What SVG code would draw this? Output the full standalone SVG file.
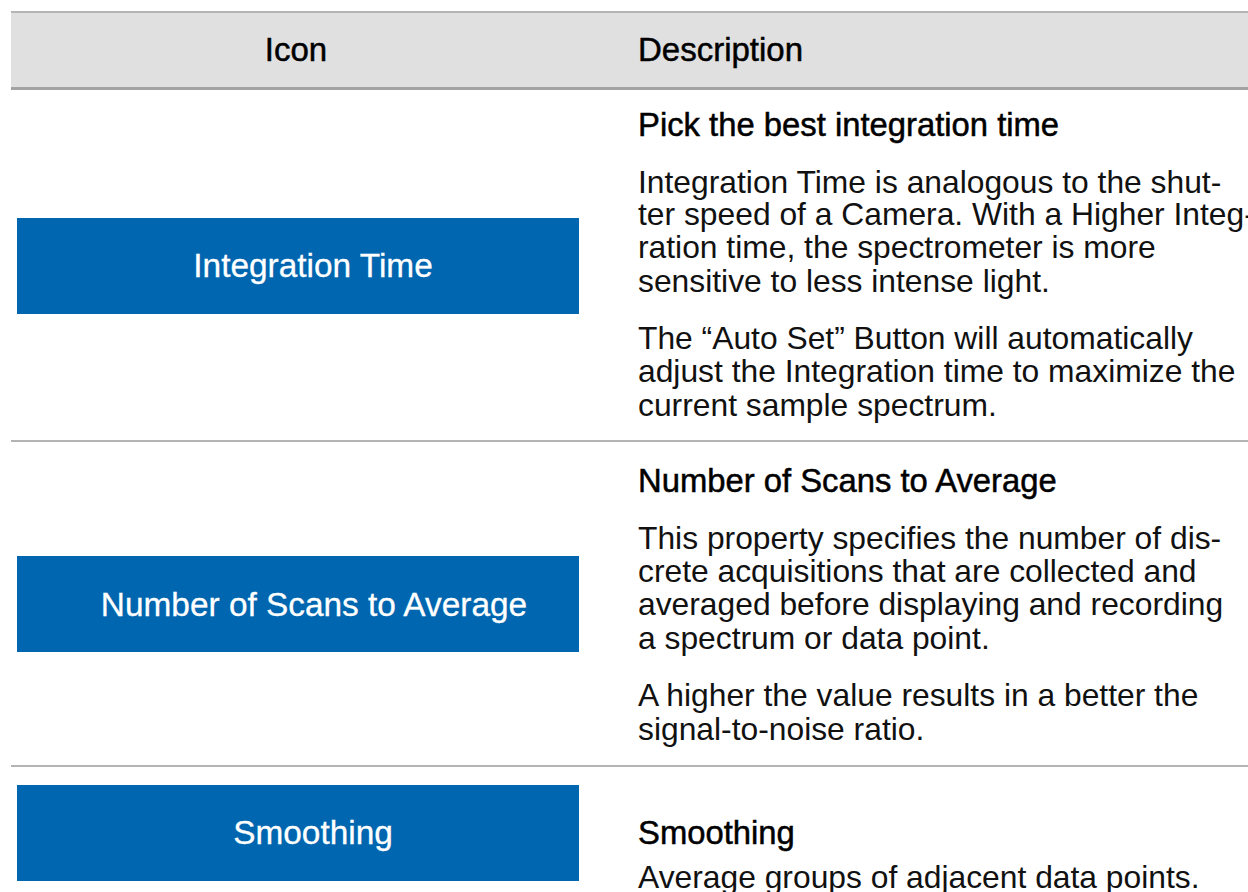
<svg xmlns="http://www.w3.org/2000/svg" width="1248" height="892" viewBox="0 0 1248 892">
<style>
.hd{font-family:"Liberation Sans",Arial,sans-serif;font-size:33px;fill:#000;stroke:#000;stroke-width:0.5}
.ti{font-family:"Liberation Sans",Arial,sans-serif;font-size:32.8px;fill:#000;stroke:#000;stroke-width:0.5}
.bd{font-family:"Liberation Sans",Arial,sans-serif;font-size:31.8px;fill:#111}
.btn{fill:#0066b0}
.bl{font-family:"Liberation Sans",Arial,sans-serif;font-size:33.4px;fill:#fff;text-anchor:middle;stroke:#fff;stroke-width:0.3}
.sep{stroke:#b4b4b4;stroke-width:2}
</style>
<rect width="1248" height="892" fill="#fff"/>
<g id="header">
<rect x="11" y="12" width="1237" height="76" fill="#e0e0e0"/>
<line x1="11" y1="12" x2="1248" y2="12" class="sep"/>
<line x1="11" y1="88.5" x2="1248" y2="88.5" stroke="#a3a3a3" stroke-width="3"/>
<text x="296" y="61" class="hd" text-anchor="middle">Icon</text>
<text x="638" y="61" class="hd">Description</text>
</g>
<g id="connectors">
<line x1="11" y1="441" x2="1248" y2="441" class="sep"/>
<line x1="11" y1="766" x2="1248" y2="766" class="sep"/>
</g>
<g id="integration-time">
<rect x="17" y="218" width="562" height="96" class="btn"/>
<text x="313" y="277" class="bl">Integration Time</text>
<text x="638" y="136" class="ti">Pick the best integration time</text>
<text class="bd">
<tspan x="638" y="193">Integration Time is analogous to the shut-</tspan>
<tspan x="638" y="225">ter speed of a Camera. With a Higher Integ-</tspan>
<tspan x="638" y="258">ration time, the spectrometer is more</tspan>
<tspan x="638" y="292">sensitive to less intense light.</tspan>
<tspan x="638" y="349">The “Auto Set” Button will automatically</tspan>
<tspan x="638" y="382">adjust the Integration time to maximize the</tspan>
<tspan x="638" y="416">current sample spectrum.</tspan>
</text>
</g>
<g id="number-of-scans">
<rect x="17" y="556" width="562" height="96" class="btn"/>
<text x="314" y="616" class="bl">Number of Scans to Average</text>
<text x="638" y="492" class="ti">Number of Scans to Average</text>
<text class="bd">
<tspan x="638" y="549">This property specifies the number of dis-</tspan>
<tspan x="638" y="582">crete acquisitions that are collected and</tspan>
<tspan x="638" y="615">averaged before displaying and recording</tspan>
<tspan x="638" y="649">a spectrum or data point.</tspan>
<tspan x="638" y="706">A higher the value results in a better the</tspan>
<tspan x="638" y="740">signal-to-noise ratio.</tspan>
</text>
</g>
<g id="smoothing">
<rect x="17" y="785" width="562" height="96" class="btn"/>
<text x="313" y="844" class="bl">Smoothing</text>
<text x="638" y="844" class="ti">Smoothing</text>
<text x="638" y="888" class="bd">Average groups of adjacent data points.</text>
</g>
</svg>
